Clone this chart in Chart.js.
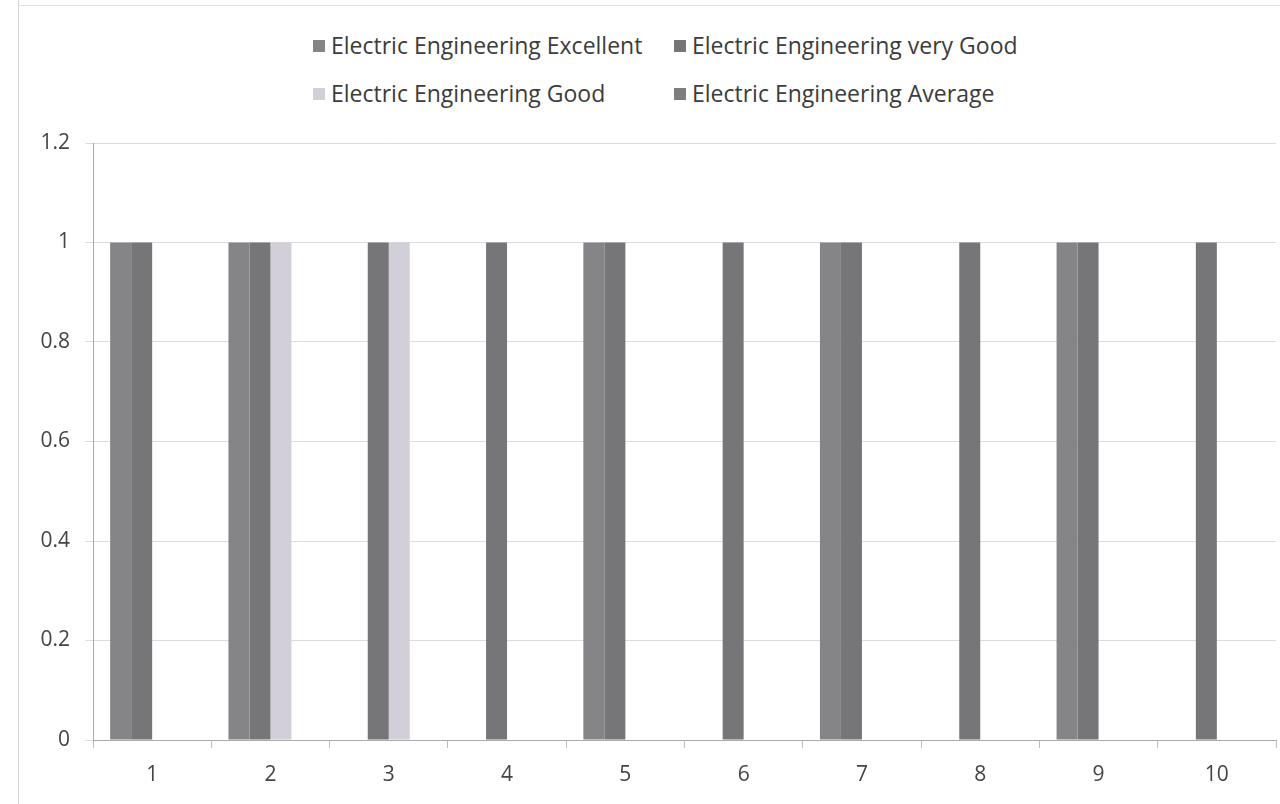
<!DOCTYPE html>
<html>
<head>
<meta charset="utf-8">
<script src="https://cdn.jsdelivr.net/npm/chart.js@4"></script>
<style>
  html, body { margin: 0; padding: 0; background: #fff; }
  #wrap { position: relative; width: 1280px; height: 804px; overflow: hidden; }
  #edge { position: absolute; left: 18px; top: 0; width: 1px; height: 804px; background: #d4d4d8; }
  #topedge { position: absolute; left: 18px; top: 5px; width: 1262px; height: 1px; background: #e2e2e6; }
  #legend { position: absolute; left: 313px; top: 28px; width: 780px;
            font-family: "Open Sans", "Liberation Sans", sans-serif; font-size: 23px; color: #3c3c3c; }
  .item { position: absolute; white-space: nowrap; line-height: 34px; }
  .box { display: inline-block; width: 12px; height: 12px; margin-right: 6px; vertical-align: 2px; }
  canvas { position: absolute; left: 0; top: 0; }
</style>
</head>
<body>
<div id="wrap">
  <div id="edge"></div>
  <div id="topedge"></div>
  <div id="legend"></div>
  <canvas id="chart" width="1280" height="804"></canvas>
</div>
<script>
// categories and series
const categories = ['1', '2', '3', '4', '5', '6', '7', '8', '9', '10'];
const seriesNames = [
  'Electric Engineering Excellent',
  'Electric Engineering very Good',
  'Electric Engineering Good',
  'Electric Engineering Average'
];
const excellent = [1, 1, 0, 0, 1, 0, 1, 0, 1, 0];
const veryGood  = [1, 1, 1, 1, 1, 1, 1, 1, 1, 1];
const good      = [0, 1, 1, 0, 0, 0, 0, 0, 0, 0];
const average   = [0, 0, 0, 0, 0, 0, 0, 0, 0, 0];
const yTicks = [0, 0.2, 0.4, 0.6, 0.8, 1, 1.2];

const colors = ['#858487', '#767578', '#d3cfd8', '#7e7d80'];
const allData = [excellent, veryGood, good, average];

// html legend, two columns like the original
const legend = document.getElementById('legend');
const legendPos = [[0, 0], [361, 0], [0, 48], [361, 48]];
seriesNames.forEach((name, i) => {
  const d = document.createElement('div');
  d.className = 'item';
  d.style.left = legendPos[i][0] + 'px';
  d.style.top = legendPos[i][1] + 'px';
  d.innerHTML = '<span class="box" style="background:' + colors[i] + '"></span>' + name;
  legend.appendChild(d);
});

const tickFont = { family: 'Open Sans', size: 21 };

const ctx = document.getElementById('chart').getContext('2d');
const chart = new Chart(ctx, {
  type: 'bar',
  data: {
    labels: categories,
    datasets: seriesNames.map((name, i) => ({
      label: name,
      data: allData[i],
      backgroundColor: colors[i],
      borderWidth: 0,
      categoryPercentage: 0.71,
      barPercentage: 1.0
    }))
  },
  options: {
    responsive: false,
    animation: false,
    layout: { padding: { top: 143, left: 0, right: 4, bottom: 0 } },
    plugins: {
      legend: { display: false },
      tooltip: { enabled: false }
    },
    scales: {
      x: {
        grid: { drawOnChartArea: false, drawTicks: true, tickLength: 8, color: '#bdbdc2' },
        border: { color: '#a9a9ae' },
        ticks: { color: '#444', padding: 14, font: tickFont },
        afterFit(scale) { scale.height = 64; }
      },
      y: {
        min: 0,
        max: 1.2,
        afterBuildTicks(scale) { scale.ticks = yTicks.map(v => ({ value: v })); },
        grid: { color: '#dcdce0', tickLength: 8 },
        border: { color: '#a9a9ae' },
        ticks: {
          color: '#444', padding: 15, font: tickFont,
          callback: v => String(Math.round(v * 10) / 10)
        },
        afterFit(scale) { scale.width = 93; }
      }
    }
  }
});
</script>
</body>
</html>
